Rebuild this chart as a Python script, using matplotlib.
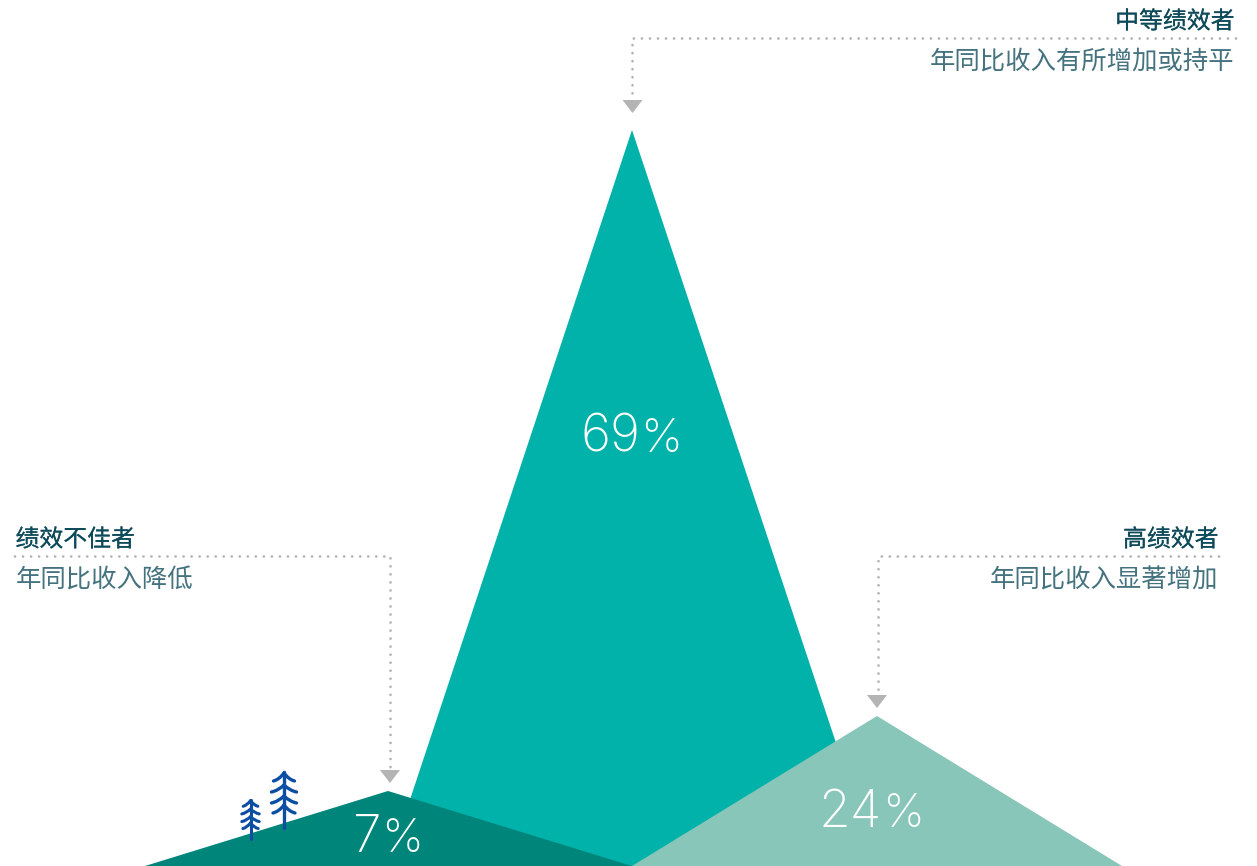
#!/usr/bin/env python3
"""Revenue trend of performers: three overlapping peaks with callouts."""

import matplotlib
matplotlib.use("Agg")
import matplotlib.pyplot as plt
import matplotlib.patheffects as pe
from matplotlib.patches import Polygon, PathPatch
from matplotlib.path import Path

plt.rcParams["font.family"] = ["Noto Sans CJK SC", "DejaVu Sans"]

# ── Data ──────────────────────────────────────────────────────────────────────
groups = ["绩效不佳者", "中等绩效者", "高绩效者"]
subtitles = ["年同比收入降低", "年同比收入有所增加或持平", "年同比收入显著增加"]
shares = ["7", "69", "24"]
peak_x = [388, 632, 877]
peak_y = [791, 130, 716]
base_left = [145, 388, 632]
base_right = [632, 877, 1122]
colors = ["#00857A", "#00B2A9", "#88C6B9"]

TEXT_DARK = "#0E4A5A"
TEXT_SUB = "#44727E"
DOTS = "#B4B4B4"
TREE = "#0B4EA2"
BASE_Y = 866

fig = plt.figure(figsize=(12.57, 8.66), dpi=100)
ax = fig.add_axes([0, 0, 1, 1])
ax.set_xlim(0, 1257)
ax.set_ylim(866, 0)
ax.axis("off")

# ── Peaks: tallest at the back ────────────────────────────────────────────────
for i, z in zip([1, 0, 2], [1, 2, 3]):
    ax.add_patch(Polygon([(base_left[i], BASE_Y), (peak_x[i], peak_y[i]), (base_right[i], BASE_Y)],
                         closed=True, fc=colors[i], ec="none", zorder=z))

# ── Share labels: digits and a smaller percent sign ───────────────────────────
label_pos = [(381, 852), (640, 452), (882, 827)]
for s, (x, y) in zip(shares, label_pos):
    ax.text(x, y, s, color="white", fontsize=37, family=["Inter", "DejaVu Sans"], weight=200,
            ha="right", va="baseline", zorder=5)
    ax.text(x, y, "%", color="white", fontsize=34, family=["Inter", "DejaVu Sans"], weight=200,
            ha="left", va="baseline", zorder=5)


# ── Callouts ──────────────────────────────────────────────────────────────────
def leader(xs, ys):
    ax.plot(xs, ys, color=DOTS, lw=2.0, ls=(0, (0.01, 2.88)), dash_capstyle="round",
            snap=False, zorder=4)


def arrow(x, tip_y):
    ax.add_patch(Polygon([(x - 10, tip_y - 13), (x + 10, tip_y - 13), (x, tip_y)],
                         closed=True, fc=DOTS, ec="none", zorder=4))


leader([1236, 632.5, 632.5], [38.5, 38.5, 100])
arrow(632.5, 113)
leader([15, 390.5, 390.5], [556.5, 556.5, 770])
arrow(390, 783)
leader([1219, 878.5, 878.5], [556.5, 556.5, 695])
arrow(877, 708)

bolder = [pe.withStroke(linewidth=0.12, foreground=TEXT_DARK)]


def callout(x, ha, y_head, y_sub, i):
    ax.text(x, y_head, groups[i], color=TEXT_DARK, fontsize=17.2, ha=ha, va="center", path_effects=bolder)
    ax.text(x, y_sub, subtitles[i], color=TEXT_SUB, fontsize=18.3, ha=ha, va="center")


callout(15.5, "left", 540, 581, 0)
callout(1234.5, "right", 22, 62, 1)
callout(1218.5, "right", 540, 581, 2)


# ── Pine trees on the left slope ──────────────────────────────────────────────
def tree(x, top, height, lw):
    u = height / 56
    ax.plot([x, x], [top, top + height], color=TREE, lw=lw, solid_capstyle="round", zorder=6)
    for start, end, half in [(1, 9, 10.5), (13, 20, 12.5), (24, 31, 12.5), (33, 41, 11)]:
        for side in (-1, 1):
            verts = [(x, top + start * u),
                     (x + side * half * 0.45 * u, top + end * u - 1.5 * u),
                     (x + side * half * u, top + end * u)]
            ax.add_patch(PathPatch(Path(verts, [Path.MOVETO, Path.CURVE3, Path.CURVE3]),
                                   fc="none", ec=TREE, lw=lw, capstyle="round", zorder=6))


tree(284, 772, 56, 2.4)
tree(250.5, 800, 39, 2.2)

fig.savefig("out.png", dpi=100, facecolor="white")
